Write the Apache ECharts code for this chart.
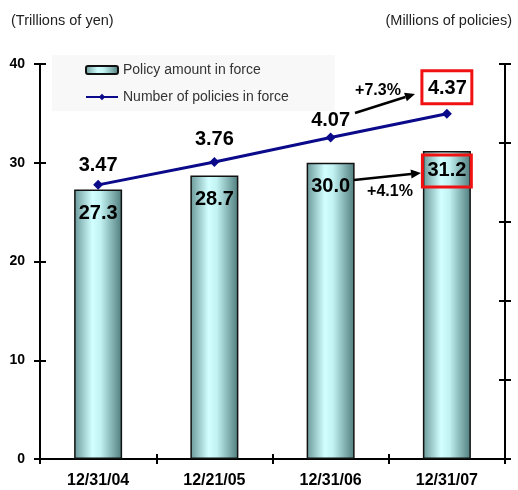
<!DOCTYPE html>
<html>
<head>
<meta charset="utf-8">
<script src="https://cdn.jsdelivr.net/npm/echarts@6/dist/echarts.min.js"></script>
<style>
  html, body { margin: 0; padding: 0; background: #fff; }
  #chart { width: 518px; height: 490px; }
</style>
</head>
<body>
<div id="chart"></div>
<script>
// Year-end figures
const categories = ['12/31/04', '12/21/05', '12/31/06', '12/31/07'];
const policyAmount = [27.3, 28.7, 30.0, 31.2];      // trillions of yen
const policyCount = [3.47, 3.76, 4.07, 4.37];       // millions of policies
const leftTicks = { min: 0, max: 40, interval: 10 };
const rightTicks = { min: 0, max: 5, interval: 1 };

const FONT = '"Liberation Sans", Arial, sans-serif';
const RED = '#f01212';

const chart = echarts.init(document.getElementById('chart'), null, { renderer: 'canvas' });

const barFill = new echarts.graphic.LinearGradient(0, 0, 1, 0, [
  { offset: 0, color: '#6a9898' },
  { offset: 0.38, color: '#d2ffff' },
  { offset: 0.55, color: '#c2f2f2' },
  { offset: 1, color: '#4f7c7d' }
]);

const valueLabel = { color: '#000', fontWeight: 'bold', fontSize: 20, fontFamily: FONT };

const barData = policyAmount.map((v, i) => {
  const last = i === policyAmount.length - 1;
  return last
    ? { value: v, label: { borderColor: RED, borderWidth: 3, padding: [6, 5, 6, 5], distance: 4 } }
    : { value: v };
});

const lineOffsets = [4, 7, 2, 5];
const lineData = policyCount.map((v, i) => {
  const last = i === policyCount.length - 1;
  const item = { value: v, label: { distance: lineOffsets[i] } };
  if (last) Object.assign(item.label, { borderColor: RED, borderWidth: 3, padding: [8, 5, 5, 6] });
  return item;
});

const axisBlack = { lineStyle: { color: '#000', width: 2 } };

// arrow helper for the growth callouts
function arrow(x1, y1, x2, y2) {
  const ang = Math.atan2(y2 - y1, x2 - x1);
  const len = 10, half = 4.5;
  const bx = x2 - len * Math.cos(ang), by = y2 - len * Math.sin(ang);
  const px = -Math.sin(ang) * half, py = Math.cos(ang) * half;
  return [
    { type: 'line', shape: { x1: x1, y1: y1, x2: bx, y2: by }, style: { stroke: '#000', lineWidth: 2.5 }, z: 20 },
    { type: 'polygon', shape: { points: [[x2, y2], [bx + px, by + py], [bx - px, by - py]] }, style: { fill: '#000' }, z: 20 }
  ];
}

const option = {
  backgroundColor: '#fff',
  animation: false,
  title: [
    { text: '(Trillions of yen)', left: 6, top: 8, textStyle: { fontSize: 14.5, fontWeight: 'normal', color: '#222', fontFamily: FONT } },
    { text: '(Millions of policies)', right: 1, top: 8, textStyle: { fontSize: 14.5, fontWeight: 'normal', color: '#222', fontFamily: FONT } }
  ],
  legend: {
    orient: 'vertical',
    left: 52,
    top: 55,
    padding: [8, 46, 7, 33],
    itemGap: 13,
    itemWidth: 32,
    itemHeight: 8,
    backgroundColor: '#f8f8f8',
    textStyle: { fontSize: 14, color: '#333', fontFamily: FONT },
    data: ['Policy amount in force', 'Number of policies in force']
  },
  grid: { left: 40, right: 13, top: 64, bottom: 31, containLabel: false },
  xAxis: [
    {
      type: 'category', data: categories, position: 'bottom',
      axisLine: axisBlack,
      axisTick: { show: true, length: 5, lineStyle: { color: '#000', width: 2 } },
      axisLabel: { color: '#000', fontWeight: 'bold', fontSize: 16, fontFamily: FONT, margin: 14 }
    },
    {
      type: 'category', data: categories, position: 'bottom', offset: 0,
      axisLine: { show: false },
      axisTick: { show: true, inside: true, length: 5, lineStyle: { color: '#000', width: 2 } },
      axisLabel: { show: false }
    }
  ],
  yAxis: [
    {
      type: 'value', position: 'left', ...leftTicks,
      axisLine: { show: true, ...axisBlack },
      axisTick: { show: true, length: 6, lineStyle: { color: '#000', width: 2 } },
      axisLabel: { color: '#000', fontWeight: 'bold', fontSize: 14, fontFamily: FONT, margin: 15 },
      splitLine: { show: false }
    },
    {
      type: 'value', position: 'right', ...rightTicks,
      axisLine: { show: true, ...axisBlack },
      axisTick: { show: true, length: 6, lineStyle: { color: '#000', width: 2 } },
      axisLabel: { show: false },
      splitLine: { show: false }
    },
    {
      type: 'value', position: 'left', offset: 0, ...leftTicks,
      axisLine: { show: false },
      axisTick: { show: true, inside: true, length: 6, lineStyle: { color: '#000', width: 2 } },
      axisLabel: { show: false }, splitLine: { show: false }
    },
    {
      type: 'value', position: 'right', offset: 0, ...rightTicks,
      axisLine: { show: false },
      axisTick: { show: true, inside: true, length: 6, lineStyle: { color: '#000', width: 2 } },
      axisLabel: { show: false }, splitLine: { show: false }
    }
  ],
  series: [
    {
      name: 'Policy amount in force',
      type: 'bar',
      xAxisIndex: 0, yAxisIndex: 0,
      barWidth: 48,
      data: barData,
      itemStyle: { color: barFill, borderColor: '#111', borderWidth: 1.5 },
      label: { show: true, position: 'insideTop', distance: 14, formatter: p => p.value.toFixed(1), ...valueLabel },
      z: 2
    },
    {
      name: 'Number of policies in force',
      type: 'line',
      xAxisIndex: 0, yAxisIndex: 1,
      data: lineData,
      symbol: 'diamond',
      symbolSize: 10,
      lineStyle: { color: '#0a0a8a', width: 3 },
      itemStyle: { color: '#0a0a8a' },
      label: { show: true, position: 'top', formatter: p => p.value.toFixed(2), ...valueLabel },
      z: 5
    }
  ],
  graphic: [
    ...arrow(355, 113, 415, 94),
    ...arrow(354, 180, 421, 173),
    { type: 'text', x: 378, y: 91, style: { text: '+7.3%', fill: '#000', font: 'bold 16px ' + FONT, align: 'center', verticalAlign: 'middle' }, z: 20 },
    { type: 'text', x: 390, y: 192, style: { text: '+4.1%', fill: '#000', font: 'bold 16px ' + FONT, align: 'center', verticalAlign: 'middle' }, z: 20 }
  ]
};

chart.setOption(option);
</script>
</body>
</html>
